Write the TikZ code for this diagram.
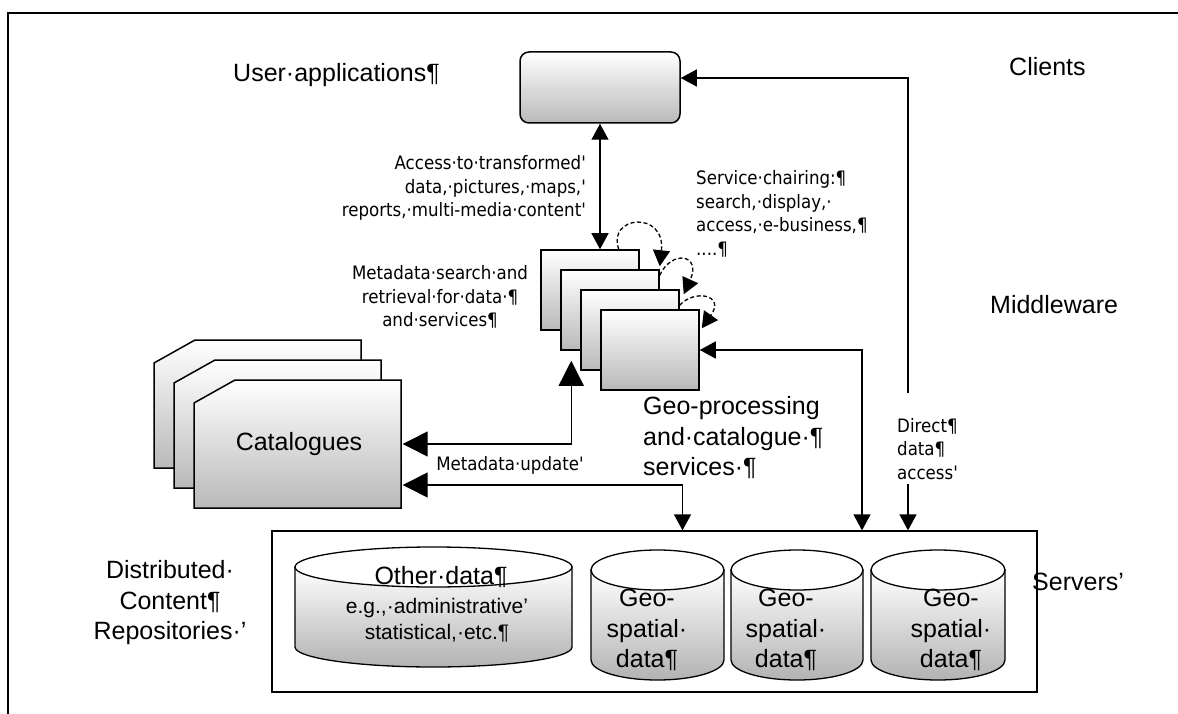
\documentclass[tikz,border=0pt]{standalone}
\usepackage{fontspec}
\setmainfont{Liberation Sans}
\newfontfamily\smallface{DejaVu Sans Condensed}
\usepackage{tikz}
\usetikzlibrary{arrows.meta,calc,positioning}

\newcommand{\bigtxt}{\fontsize{25}{30.5}\selectfont}
\newcommand{\smtxt}{\smallface\fontsize{18.5}{23.5}\selectfont}

% catalogue card, #1,#2 = top left corner
\newcommand{\catcard}[2]{%
  \shadedraw[cardfill] (#1,#2+128) -- (#1,#2+23) -- (#1+41,#2) -- (#1+207,#2) -- (#1+207,#2+128) -- cycle;}

% data drum: left x, right x, top centre y, bottom centre y, y radius
\newcommand{\drum}[5]{%
  \pgfmathsetmacro\drumcx{(#1+#2)/2}%
  \pgfmathsetmacro\drumrx{(#2-#1)/2}%
  \shadedraw[drumfill] (#1,#3) -- (#1,#4)
    .. controls (#1,#4+0.552*#5) and (\drumcx-0.552*\drumrx,#4+#5) .. (\drumcx,#4+#5)
    .. controls (\drumcx+0.552*\drumrx,#4+#5) and (#2,#4+0.552*#5) .. (#2,#4)
    -- (#2,#3) -- cycle;
  \draw[line width=1.3pt,fill=white] (\drumcx,#3) ellipse [x radius=\drumrx, y radius=#5];}

\begin{document}
\begin{tikzpicture}[x=1pt,y=-1pt,
  hd/.tip={Triangle[length=16pt,width=17pt]},
  bighd/.tip={Triangle[length=25pt,width=25pt]},
  wire/.style={line width=1.3pt},
  boxfill/.style={draw,line width=1.5pt,top color=white,bottom color=gray!55},
  cardfill/.style={draw,line width=1.5pt,top color=white,bottom color=gray!55},
  drumfill/.style={draw,line width=1.3pt,top color=white,bottom color=gray!60},
  stackbox/.style={boxfill,minimum width=98pt,minimum height=80pt,inner sep=0pt},
  lbl/.style={inner sep=0pt,font=\bigtxt},
  note/.style={inner sep=0pt,font=\smtxt},
  chainloop/.style={wire,dash pattern=on 4pt off 2.5pt,-hd}]
\useasboundingbox (0,0) rectangle (1178,714);
\draw[line width=2pt] (8,714) -- (8,13) -- (1178,13);

% clients
\node[boxfill,rounded corners=9pt,minimum width=160pt,minimum height=71pt] (ua) at (600,87.5) {};
\node[lbl,anchor=base west] (uatxt) at (233,82) {User·applications¶};
\node[lbl,anchor=base west] (cli) at (1009,76) {Clients};
\node[lbl,anchor=base west] (mid) at (990,313) {Middleware};

% service stack
\foreach \i in {1,...,4}
  \node[stackbox] (s\i) at ({570+20*\i},{270+20*\i}) {};
\draw[chainloop] ([xshift=-21pt]s1.north east) .. controls +(-12,-34) and +(6,-56) .. ([yshift=3pt]s2.north east);
\draw[chainloop] ([yshift=-6pt]s2.north east) .. controls +(12,-26) and +(18,-40) .. ([xshift=4pt,yshift=-5pt]s3.north east);
\draw[chainloop] ([yshift=-16pt]s3.north east) .. controls +(14,-16) and +(24,-34) .. ([xshift=2pt,yshift=-19pt]s4.north east);

% catalogues
\foreach \i in {0,1,2}
  \catcard{154+20*\i}{340+20*\i};
\node[lbl,minimum width=207pt,minimum height=128pt] (cat) at (299,444) {Catalogues};

% servers
\node[draw,line width=1.3pt,minimum width=765pt,minimum height=161pt] (srv) at (654.5,611.5) {};
\drum{295}{572}{567}{647}{20}
\node[lbl] (od) at (441,577) {Other·data¶};
\node[font=\fontsize{21}{26}\selectfont,align=center,inner sep=0pt] (odx) at (437,620) {e.g.,·administrative'\\statistical,·etc.¶};
\foreach \l/\r/\t [count=\i] in {591/724/647, 731/863/786, 871/1005/951}{
  \drum{\l}{\r}{570}{660}{20}
  \node[lbl,align=center] (geo\i) at (\t,630) {Geo-\\spatial·\\data¶};
}

% connectors
\draw[wire,hd-hd] (ua.south) -- (ua.south |- s1.north);
\draw[wire,bighd-bighd,shorten >=10pt] (cat.east) -| ([xshift=11pt]s2.south west);
\draw[wire,bighd-hd] ([yshift=-41pt]cat.east) -| ([xshift=28pt]srv.north);
\draw[wire,hd-hd] (s4.east) -| ([xshift=207.5pt]srv.north);
\coordinate (dtop) at (908,393);
\coordinate (dbot) at (908,484);
\draw[wire,-hd] (dtop) |- ([yshift=9.5pt]ua.east);
\draw[wire,-hd] (dbot) -- (dbot |- srv.north);

% labels
\node[note,align=right,anchor=east] (acc) at (586,188) {Access·to·transformed'\\data,·pictures,·maps,'\\reports,·multi-media·content'};
\node[note,align=center] (meta) at (440,297) {Metadata·search·and\\retrieval·for·data·¶\\and·services¶};
\node[note,align=left,anchor=west] (chain) at (696,214) {Service·chairing:¶\\search,·display,·\\access,·e-business,¶\\....¶};
\node[note] (upd) at (510,465) {Metadata·update'};
\node[lbl,align=left,anchor=west] (geo) at (643,438) {Geo-processing\\and·catalogue·¶\\services·¶};
\node[note,align=left,anchor=west] (dir) at (897,449) {Direct¶\\data¶\\access'};
\node[lbl,align=center] (rep) at (170,603) {Distributed·\\Content¶\\Repositories·'};
\node[lbl,anchor=west] (srvtxt) at (1032,582) {Servers'};
\end{tikzpicture}
\end{document}
